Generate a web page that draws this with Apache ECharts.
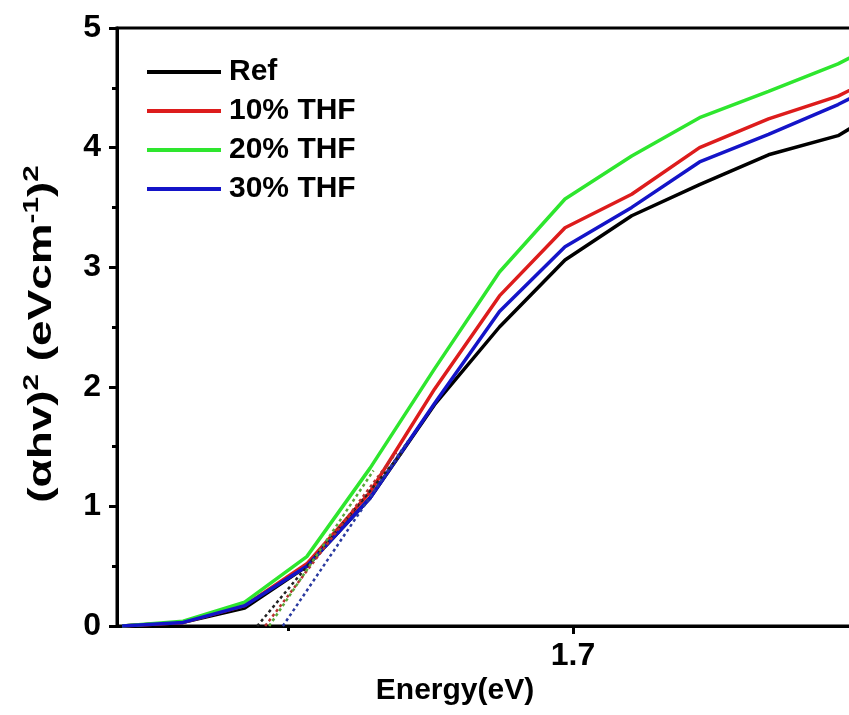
<!DOCTYPE html>
<html>
<head>
<meta charset="utf-8">
<script src="https://cdn.jsdelivr.net/npm/echarts@6/dist/echarts.min.js"></script>
<style>
    html, body { margin: 0; padding: 0; background: #fff; }
    #main { width: 849px; height: 715px; }
</style>
</head>
<body>
<div id="main"></div>
<script>
// photon energy (eV)
const energy = [1.6209, 1.6316, 1.6424, 1.6533, 1.6644, 1.6757, 1.6871, 1.6986, 1.7103, 1.7222, 1.7343, 1.7465, 1.7589];
const refVals = [0, 0.03, 0.15, 0.50, 1.07, 1.85, 2.50, 3.06, 3.43, 3.69, 3.94, 4.10, 4.45];
const thf10 = [0, 0.03, 0.17, 0.52, 1.12, 1.98, 2.76, 3.33, 3.61, 4.00, 4.24, 4.43, 4.73];
const thf20 = [0, 0.04, 0.20, 0.58, 1.32, 2.15, 2.96, 3.57, 3.93, 4.25, 4.47, 4.70, 5.00];
const thf30 = [0, 0.03, 0.17, 0.50, 1.07, 1.86, 2.63, 3.17, 3.50, 3.88, 4.11, 4.36, 4.66];
const names = ['Ref', '10% THF', '20% THF', '30% THF'];
const colors = ['#000000', '#dd1c1c', '#2ee62e', '#1414c8'];

// tangent (Tauc) fits: [x-intercept, upper point]
const fitRef = [[1.6446, 0], [1.6700, 1.45]];
const fit10 = [[1.6460, 0], [1.6690, 1.45]];
const fit20 = [[1.6467, 0], [1.6650, 1.30]];
const fit30 = [[1.6491, 0], [1.6711, 1.55]];
const fitColors = ['#222222', '#b83030', '#5aa83a', '#2a3aa0'];

const xLabels = [1.7];
const xMinor = [1.65, 1.75];

const font = 'Arial, "Liberation Sans", sans-serif';
const chart = echarts.init(document.getElementById('main'));

const pair = (vals) => energy.map((e, i) => [e, vals[i]]);
const solid = [refVals, thf10, thf20, thf30].map((vals, i) => ({
    name: names[i],
    type: 'line',
    data: pair(vals),
    symbol: 'none',
    lineStyle: { color: colors[i], width: 3.5 },
    itemStyle: { color: colors[i] },
    z: 3
}));
const dotted = [fitRef, fit10, fit20, fit30].map((d, i) => ({
    name: 'fit' + i,
    type: 'line',
    data: d,
    symbol: 'none',
    lineStyle: { color: fitColors[i], width: 2.5, type: [3, 3] },
    z: 4
}));

chart.setOption({
    backgroundColor: '#fff',
    animation: false,
    grid: {
        left: 117, top: 28, width: 741, height: 598,
        outerBoundsMode: 'none',
        show: true, borderColor: '#000', borderWidth: 3, backgroundColor: 'transparent'
    },
    legend: {
        data: names,
        orient: 'vertical',
        left: 142,
        top: 52,
        icon: 'rect',
        itemWidth: 74,
        itemHeight: 4,
        itemGap: 9,
        textStyle: { fontFamily: font, fontSize: 30, fontWeight: 'bold', color: '#000', lineHeight: 30, padding: [0, 0, 0, 3] }
    },
    xAxis: [{
        type: 'value',
        min: 1.62,
        max: 1.75,
        position: 'bottom',
        splitLine: { show: false },
        axisLine: { show: true, onZero: false, lineStyle: { color: '#000', width: 3 } },
        axisTick: { show: true, customValues: xLabels, length: 8, lineStyle: { color: '#000', width: 3 } },
        axisLabel: {
            customValues: xLabels, margin: 14,
            fontFamily: font, fontSize: 32, fontWeight: 'bold', color: '#000',
            formatter: (v) => v.toFixed(1)
        }
    }, {
        type: 'value',
        min: 1.62,
        max: 1.75,
        position: 'bottom',
        splitLine: { show: false },
        axisLine: { show: false },
        axisTick: { show: true, customValues: xMinor, length: 5, lineStyle: { color: '#000', width: 3 } },
        axisLabel: { show: false }
    }],
    yAxis: {
        type: 'value',
        min: 0,
        max: 5,
        interval: 1,
        splitLine: { show: false },
        axisLine: { show: true, lineStyle: { color: '#000', width: 3 } },
        axisTick: { show: true, length: 8, lineStyle: { color: '#000', width: 3 } },
        minorTick: { show: true, splitNumber: 2, length: 5, lineStyle: { color: '#000', width: 3 } },
        axisLabel: { margin: 16, fontFamily: font, fontSize: 32, fontWeight: 'bold', color: '#000' }
    },
    graphic: [{
        type: 'text',
        x: 455,
        y: 691,
        style: {
            text: 'Energy(eV)',
            font: 'bold 30px ' + font,
            fill: '#000',
            align: 'center',
            verticalAlign: 'middle'
        }
    }, {
        type: 'text',
        x: 42,
        y: 334,
        rotation: Math.PI / 2,
        scaleX: 1.35,
        style: {
            text: '{b|(αhv)}{s|2}{b| (eVcm}{s|-1}{b|)}{s|2}',
            align: 'center',
            verticalAlign: 'middle',
            fill: '#000',
            rich: {
                b: { fontFamily: font, fontSize: 34, fontWeight: 'bold', lineHeight: 42, fill: '#000' },
                s: { fontFamily: font, fontSize: 22, fontWeight: 'bold', lineHeight: 24, verticalAlign: 'top', fill: '#000' }
            }
        }
    }],
    series: solid.concat(dotted)
});
</script>
</body>
</html>
